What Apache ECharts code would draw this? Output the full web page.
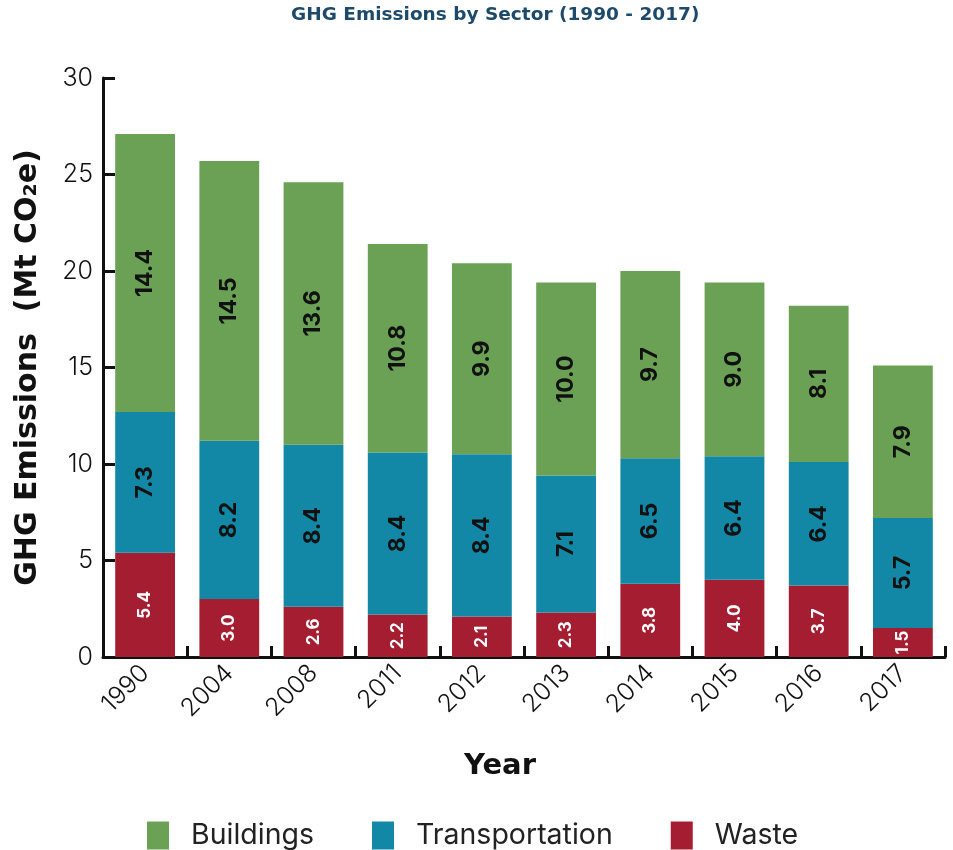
<!DOCTYPE html>
<html>
<head>
<meta charset="utf-8">
<script src="https://cdn.jsdelivr.net/npm/echarts@6/dist/echarts.min.js"></script>
<style>html,body{margin:0;padding:0;background:#fff}#c{width:953px;height:850px}</style>
</head>
<body>
<div id="c"></div>
<script>
const years = ['1990','2004','2008','2011','2012','2013','2014','2015','2016','2017'];
const waste = [5.4, 3.0, 2.6, 2.2, 2.1, 2.3, 3.8, 4.0, 3.7, 1.5];
const transportation = [7.3, 8.2, 8.4, 8.4, 8.4, 7.1, 6.5, 6.4, 6.4, 5.7];
const buildings = [14.4, 14.5, 13.6, 10.8, 9.9, 10.0, 9.7, 9.0, 8.1, 7.9];
const yTicks = [0, 5, 10, 15, 20, 25, 30];

const FONT = 'Inter, "Noto Sans", sans-serif';
const BOLD = '"DejaVu Sans", Inter, sans-serif';
const chart = echarts.init(document.getElementById('c'));
function lbl(color, size) {
  return {
    show: true, position: 'inside', rotate: 90,
    color: color, fontSize: size, fontWeight: 'bold', fontFamily: FONT,
    formatter: p => p.value.toFixed(1)
  };
}
chart.setOption({
  animation: false,
  title: {
    text: 'GHG Emissions by Sector (1990 - 2017)',
    left: 286, top: 1,
    textStyle: { fontFamily: BOLD, fontSize: 18.5, fontWeight: 'bold', color: '#1d4a6a' }
  },
  legend: {
    data: ['Buildings', 'Transportation', 'Waste'],
    left: 142, top: 816,
    itemWidth: 22, itemHeight: 28, itemGap: 58,
    icon: 'rect',
    textStyle: { fontFamily: FONT, fontSize: 28.5, color: '#222', padding: [0, 0, 0, 17] }
  },
  grid: { left: 103, right: 8, top: 78, bottom: 193, containLabel: false },
  xAxis: {
    type: 'category', data: years,
    name: 'Year', nameLocation: 'middle', nameGap: 95,
    nameTextStyle: { fontFamily: BOLD, fontSize: 29, fontWeight: 'bold', color: '#111', padding: [0, 48, 0, 0] },
    axisLine: { lineStyle: { color: '#111', width: 3 } },
    axisTick: { show: true, inside: true, length: 11, lineStyle: { color: '#111', width: 3 } },
    axisLabel: { rotate: 45, fontFamily: FONT, fontSize: 25, fontWeight: 300, color: '#111', margin: 12 }
  },
  yAxis: {
    type: 'value', min: 0, max: 30, interval: 5,
    name: 'GHG Emissions  (Mt CO₂e)', nameLocation: 'middle', nameGap: 60,
    nameTextStyle: { fontFamily: BOLD, fontSize: 30, fontWeight: 'bold', color: '#111', padding: [0, 0, 0, 0] },
    axisLine: { show: true, lineStyle: { color: '#111', width: 3 } },
    axisTick: { show: true, inside: true, length: 12, lineStyle: { color: '#111', width: 3 } },
    splitLine: { show: false },
    axisLabel: {
      fontFamily: FONT, fontSize: 25, fontWeight: 300, color: '#111', margin: 10,
      formatter: v => yTicks.includes(v) ? String(v) : ''
    }
  },
  series: [
    { name: 'Waste', type: 'bar', stack: 'all', data: waste, barCategoryGap: '29%',
      itemStyle: { color: '#a51d30' }, label: lbl('#fff', 17) },
    { name: 'Transportation', type: 'bar', stack: 'all', data: transportation,
      itemStyle: { color: '#1287a6' }, label: lbl('#111', 23) },
    { name: 'Buildings', type: 'bar', stack: 'all', data: buildings,
      itemStyle: { color: '#6aa155' }, label: lbl('#111', 23) }
  ]
});
</script>
</body>
</html>
